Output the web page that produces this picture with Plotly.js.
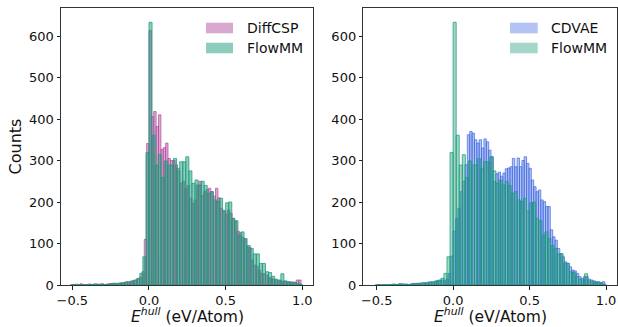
<!DOCTYPE html>
<html><head><meta charset="utf-8">
<script src="https://cdn.plot.ly/plotly-3.0.1.min.js"></script>
<style>html,body{margin:0;padding:0;background:#fff;} #chart{width:618px;height:327px;}</style>
</head><body><div id="chart"></div>
<script>
// Histogram bin layout (left edge of first bin, bin width)
const DIFFCSP_START = -0.5115, DIFFCSP_WIDTH = 0.0155;
const CDVAE_START = -0.5115, CDVAE_WIDTH = 0.0155;
const FLOWMM_START = -0.5, FLOWMM_WIDTH = 0.02;

// Counts per bin
const diffcspCounts = [1,0,2,0,3,1,0,1,2,1,0,2,2,3,1,2,3,3,4,4,3,5,6,8,6,8,10,12,15,18,32,110,341,
  613,406,418,382,410,327,331,342,305,300,300,290,275,245,250,233,240,209,197,205,241,250,215,225,230,
  233,225,214,233,210,185,180,170,181,173,161,153,130,126,115,110,92,90,60,48,45,36,28,27,24,18,16,14,
  12,10,10,9,8,8,7,7,7,12,12];
const cdvaeCounts = [0,0,0,0,0,0,0,0,2,1,2,3,2,2,1,3,4,3,4,5,6,5,7,8,6,8,10,10,12,10,14,28,70,
  130,160,185,225,250,290,362,370,366,350,342,350,330,352,345,325,309,250,268,272,262,270,280,282,285,
  305,285,306,285,300,309,293,281,253,237,225,229,205,201,189,189,133,116,108,88,76,68,56,52,44,36,34,
  28,20,16,20,20,14,12,10,8,8,6,8];
const flowmmCounts = [1,0,1,0,1,2,1,3,1,2,1,2,3,4,3,5,5,6,8,10,12,16,28,68,319,
  633,361,289,314,259,299,289,289,305,281,297,297,309,275,245,253,241,250,240,221,225,205,201,209,178,
  198,200,160,155,120,128,112,95,88,75,75,52,52,32,30,21,14,12,27,10,8,7,6,4,2];

const seriesNames = ['DiffCSP', 'FlowMM', 'CDVAE'];
const xTickVals = [-0.5, 0.0, 0.5, 1.0];
const yTickVals = [0, 100, 200, 300, 400, 500, 600];
const xTitle = '<i>E</i><sup><i>hull</i></sup> (eV/Atom)';
const yTitle = 'Counts';

function binCenters(start, w, n) {
  const c = [];
  for (let i = 0; i < n; i++) c.push(start + w * (i + 0.5));
  return c;
}

const FONT = 'DejaVu Sans, sans-serif';
const colDiff = [179, 81, 161], colFlow = [27, 155, 121], colCdvae = [65, 105, 225];
const rgba = (c, a) => `rgba(${c[0]},${c[1]},${c[2]},${a})`;

const styles = {
  diffL: {col: colDiff, fa: 0.5, la: 0.75},
  flowL: {col: colFlow, fa: 0.5, la: 0.75},
  cdvaeR: {col: colCdvae, fa: 0.4, la: 0.7},
  flowR: {col: colFlow, fa: 0.4, la: 0.75}
};

function barTrace(name, counts, start, w, st, xa, ya) {
  return {
    type: 'bar', name: name, showlegend: false,
    x: binCenters(start, w, counts.length), y: counts, width: w,
    xaxis: xa, yaxis: ya,
    marker: {color: rgba(st.col, st.fa), line: {color: rgba(st.col, st.la), width: 1}},
    hoverinfo: 'x+y'
  };
}

const traces = [
  barTrace(seriesNames[0], diffcspCounts, DIFFCSP_START, DIFFCSP_WIDTH, styles.diffL, 'x', 'y'),
  barTrace(seriesNames[1], flowmmCounts, FLOWMM_START, FLOWMM_WIDTH, styles.flowL, 'x', 'y'),
  barTrace(seriesNames[2], cdvaeCounts, CDVAE_START, CDVAE_WIDTH, styles.cdvaeR, 'x2', 'y2'),
  barTrace(seriesNames[1], flowmmCounts, FLOWMM_START, FLOWMM_WIDTH, styles.flowR, 'x2', 'y2')
];

function xAxis(domain, range, anchor) {
  return {
    domain: domain, range: range, anchor: anchor,
    tickvals: xTickVals, tickformat: '.1f',
    ticks: 'outside', ticklen: 3.5, tickwidth: 1, tickcolor: '#222',
    showline: true, mirror: true, linecolor: '#333', linewidth: 1,
    showgrid: false, zeroline: false,
    tickfont: {family: FONT, size: 13, color: '#111'},
    automargin: false
  };
}
function yAxis(anchor, title) {
  const ax = {
    domain: [0, 1], range: [0, 667.5], anchor: anchor,
    tickvals: yTickVals,
    ticks: 'outside', ticklen: 3.5, tickwidth: 1, tickcolor: '#222',
    showline: true, mirror: true, linecolor: '#333', linewidth: 1,
    showgrid: false, zeroline: false,
    tickfont: {family: FONT, size: 13, color: '#111'},
    automargin: false
  };
  if (title) ax.title = {text: title, font: {family: FONT, size: 16, color: '#111'}, standoff: 3};
  return ax;
}

// Hand-built legends (wide patches like the reference); paper coordinates
const legends = [
  {x0: 0.2608, x1: 0.3094, tx: 0.3309, items: [[seriesNames[0], styles.diffL], [seriesNames[1], styles.flowL]]},
  {x0: 0.8076, x1: 0.8574, tx: 0.8777, items: [[seriesNames[2], styles.cdvaeR], [seriesNames[1], styles.flowR]]}
];
const rowY = [[0.9469, 0.9086, 0.9278], [0.8747, 0.8365, 0.8556]];
const shapes = [], annotations = [];
legends.forEach(lg => {
  lg.items.forEach((it, i) => {
    shapes.push({type: 'rect', xref: 'paper', yref: 'paper', x0: lg.x0, x1: lg.x1,
      y0: rowY[i][1], y1: rowY[i][0], fillcolor: rgba(it[1].col, it[1].fa), line: {width: 0}});
    annotations.push({xref: 'paper', yref: 'paper', x: lg.tx, y: rowY[i][2], xanchor: 'left', yanchor: 'middle',
      text: it[0], showarrow: false, font: {family: FONT, size: 14, color: '#111'}});
  });
});
// x-axis titles, placed under each panel
[0.2270, 0.7719].forEach(cx => {
  annotations.push({xref: 'paper', yref: 'paper', x: cx, y: -0.1516, xanchor: 'center', yanchor: 'bottom',
    yshift: 0, borderpad: 0,
    text: xTitle, showarrow: false, font: {family: FONT, size: 15.5, color: '#111'}});
});

const layout = {
  width: 618, height: 327,
  margin: {l: 61, r: 1, t: 8, b: 42},
  paper_bgcolor: '#fff', plot_bgcolor: '#fff',
  barmode: 'overlay', bargap: 0,
  showlegend: false,
  xaxis: xAxis([0, 0.4541], [-0.574, 1.073], 'y'),
  yaxis: yAxis('x', yTitle),
  xaxis2: xAxis([0.5437, 1], [-0.5874, 1.0718], 'y2'),
  yaxis2: yAxis('x2', ''),
  shapes: shapes, annotations: annotations
};

Plotly.newPlot('chart', traces, layout, {displayModeBar: false, staticPlot: true});
</script>
</body></html>
